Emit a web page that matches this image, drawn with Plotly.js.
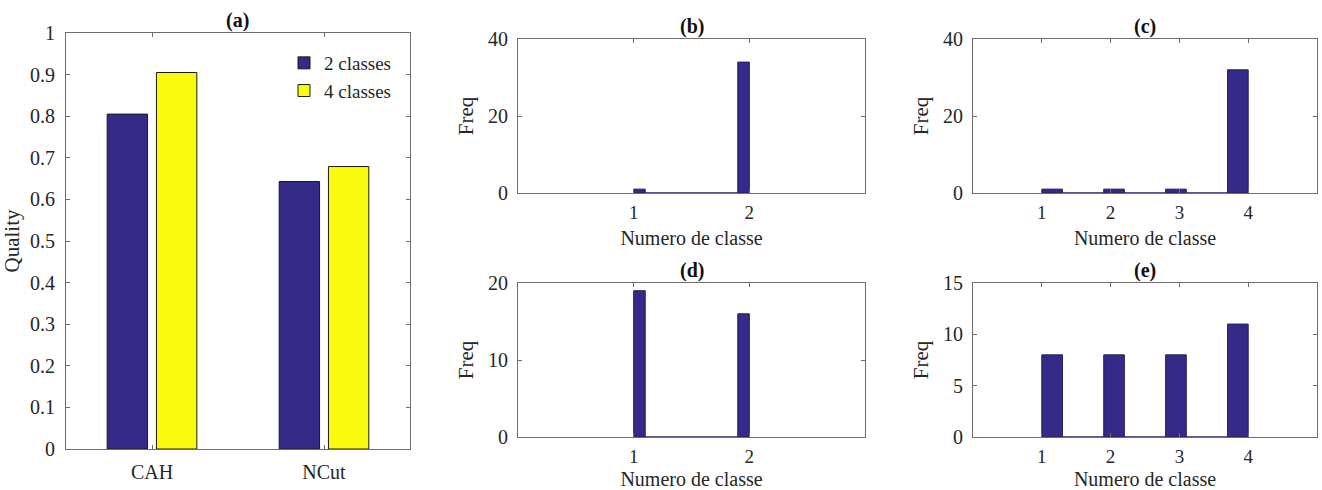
<!DOCTYPE html>
<html>
<head>
<meta charset="utf-8">
<script src="https://cdn.plot.ly/plotly-3.0.1.min.js"></script>
<style>html,body{margin:0;padding:0;background:#fff;}#chart{width:1322px;height:490px;}</style>
</head>
<body>
<div id="chart"></div>
<script>
// ---------- data ----------
const methods = ["CAH", "NCut"];
const quality2 = [0.805, 0.643];
const quality4 = [0.905, 0.679];
const seriesNames = ["2 classes", "4 classes"];

const classesB = [1, 2];          const countsB = [1, 34];
const classesC = [1, 2, 3, 4];    const countsC = [1, 1, 1, 32];
const classesD = [1, 2];          const countsD = [19, 16];
const classesE = [1, 2, 3, 4];    const countsE = [8, 8, 8, 11];

const panelTitles = ["(a)", "(b)", "(c)", "(d)", "(e)"];
const qualityTicks = [0, 0.1, 0.2, 0.3, 0.4, 0.5, 0.6, 0.7, 0.8, 0.9, 1];
const xLabel = "Numero de classe";
const yLabelA = "Quality";
const yLabelFreq = "Freq";

// ---------- style ----------
const BLUE = "#352a87";
const YELLOW = "#f9fb0e";
const FONT = "Liberation Serif, Times New Roman, serif";
const TXT = "#262626";
const AX = "#6e6e6e";
const W = 1322, H = 490;

// MATLAB-style hist: 10 equal bins between min and max of the class values
function hist10(classes, counts) {
  const lo = Math.min(...classes), hi = Math.max(...classes);
  const nb = 10, w = (hi - lo) / nb;
  const c = new Array(nb).fill(0);
  classes.forEach((v, i) => {
    let k = Math.floor((v - lo) / w + 1e-9);
    if (k >= nb) k = nb - 1;
    c[k] += counts[i];
  });
  const centers = c.map((_, i) => lo + w * (i + 0.5));
  return {x: centers, y: c, w: w};
}

// domains from pixel boxes
function dx(a, b) { return [a / W, b / W]; }
function dy(top, bot) { return [1 - bot / H, 1 - top / H]; }
const boxes = {
  a: {x: dx(66, 410), y: dy(33, 449)},
  b: {x: dx(518, 865), y: dy(39, 193)},
  c: {x: dx(973, 1317), y: dy(39, 193)},
  d: {x: dx(518, 865), y: dy(283, 437)},
  e: {x: dx(973, 1317), y: dy(283, 437)}
};

const traces = [];
traces.push({type: "bar", x: methods, y: quality2, name: seriesNames[0], xaxis: "x", yaxis: "y",
  marker: {color: BLUE, line: {color: "#1a1a1a", width: 1}}});
traces.push({type: "bar", x: methods, y: quality4, name: seriesNames[1], xaxis: "x", yaxis: "y",
  marker: {color: YELLOW, line: {color: "#1a1a1a", width: 1}}});

const histSets = [[classesB, countsB, "x2", "y2"], [classesC, countsC, "x3", "y3"],
                  [classesD, countsD, "x4", "y4"], [classesE, countsE, "x5", "y5"]];
histSets.forEach(([cl, ct, xa, ya]) => {
  const h = hist10(cl, ct);
  traces.push({type: "bar", x: h.x, y: h.y, width: h.w, xaxis: xa, yaxis: ya, showlegend: false,
    marker: {color: BLUE, line: {color: "#22205a", width: 1}}, hoverinfo: "x+y"});
});

const tickFont = {family: FONT, size: 20, color: TXT};
const xTickFont = {family: FONT, size: 19, color: TXT};
const titleFont = {family: FONT, size: 21, color: TXT};
const xTitleFont = {family: FONT, size: 20, color: TXT};
function baseAxis(domain) {
  return {domain: domain, showline: true, linecolor: AX, linewidth: 1, mirror: "ticks",
    ticks: "inside", ticklen: 4, tickcolor: AX, showgrid: false, zeroline: false,
    tickfont: tickFont, automargin: false, fixedrange: true};
}
function histX(domain, anchor, range, vals) {
  return Object.assign(baseAxis(domain), {anchor: anchor, range: range, tickvals: vals,
    tickfont: xTickFont, ticklabelstandoff: 2, title: {text: xLabel, font: xTitleFont, standoff: 9}});
}
function histY(domain, anchor, range, dt) {
  return Object.assign(baseAxis(domain), {anchor: anchor, range: range, dtick: dt,
    ticklabelstandoff: 5, title: {text: yLabelFreq, font: titleFont, standoff: 8}});
}

const layout = {
  width: W, height: H, margin: {l: 0, r: 0, t: 0, b: 0},
  paper_bgcolor: "#fff", plot_bgcolor: "#fff",
  barmode: "group", bargap: 0.427, bargroupgap: 0.18,
  showlegend: true,
  legend: {x: 284 / W, y: 1 - 44 / H, xanchor: "left", yanchor: "top",
    font: {family: FONT, size: 19, color: TXT}, bgcolor: "rgba(0,0,0,0)", borderwidth: 0,
    tracegroupgap: 0, itemwidth: 30},
  xaxis: Object.assign(baseAxis(boxes.a.x), {type: "category", range: [-0.5, 1.5], ticklabelstandoff: 5}),
  yaxis: Object.assign(baseAxis(boxes.a.y), {range: [0, 1], tickvals: qualityTicks,
    ticklabelstandoff: 6, title: {text: yLabelA, font: titleFont, standoff: 4}}),
  xaxis2: histX(boxes.b.x, "y2", [0, 3], classesB),
  yaxis2: histY(boxes.b.y, "x2", [0, 40], 20),
  xaxis3: histX(boxes.c.x, "y3", [0, 5], classesC),
  yaxis3: histY(boxes.c.y, "x3", [0, 40], 20),
  xaxis4: histX(boxes.d.x, "y4", [0, 3], classesD),
  yaxis4: histY(boxes.d.y, "x4", [0, 20], 10),
  xaxis5: histX(boxes.e.x, "y5", [0, 5], classesE),
  yaxis5: histY(boxes.e.y, "x5", [0, 15], 5),
  annotations: ["a", "b", "c", "d", "e"].map((k, i) => ({
    text: "<b>" + panelTitles[i] + "</b>", xref: "paper", yref: "paper",
    x: (boxes[k].x[0] + boxes[k].x[1]) / 2, y: boxes[k].y[1], xanchor: "center", yanchor: "bottom",
    yshift: -1, showarrow: false, font: {family: FONT, size: 20, color: "#111"}
  }))
};

Plotly.newPlot("chart", traces, layout, {displayModeBar: false, staticPlot: true});
</script>
</body>
</html>
